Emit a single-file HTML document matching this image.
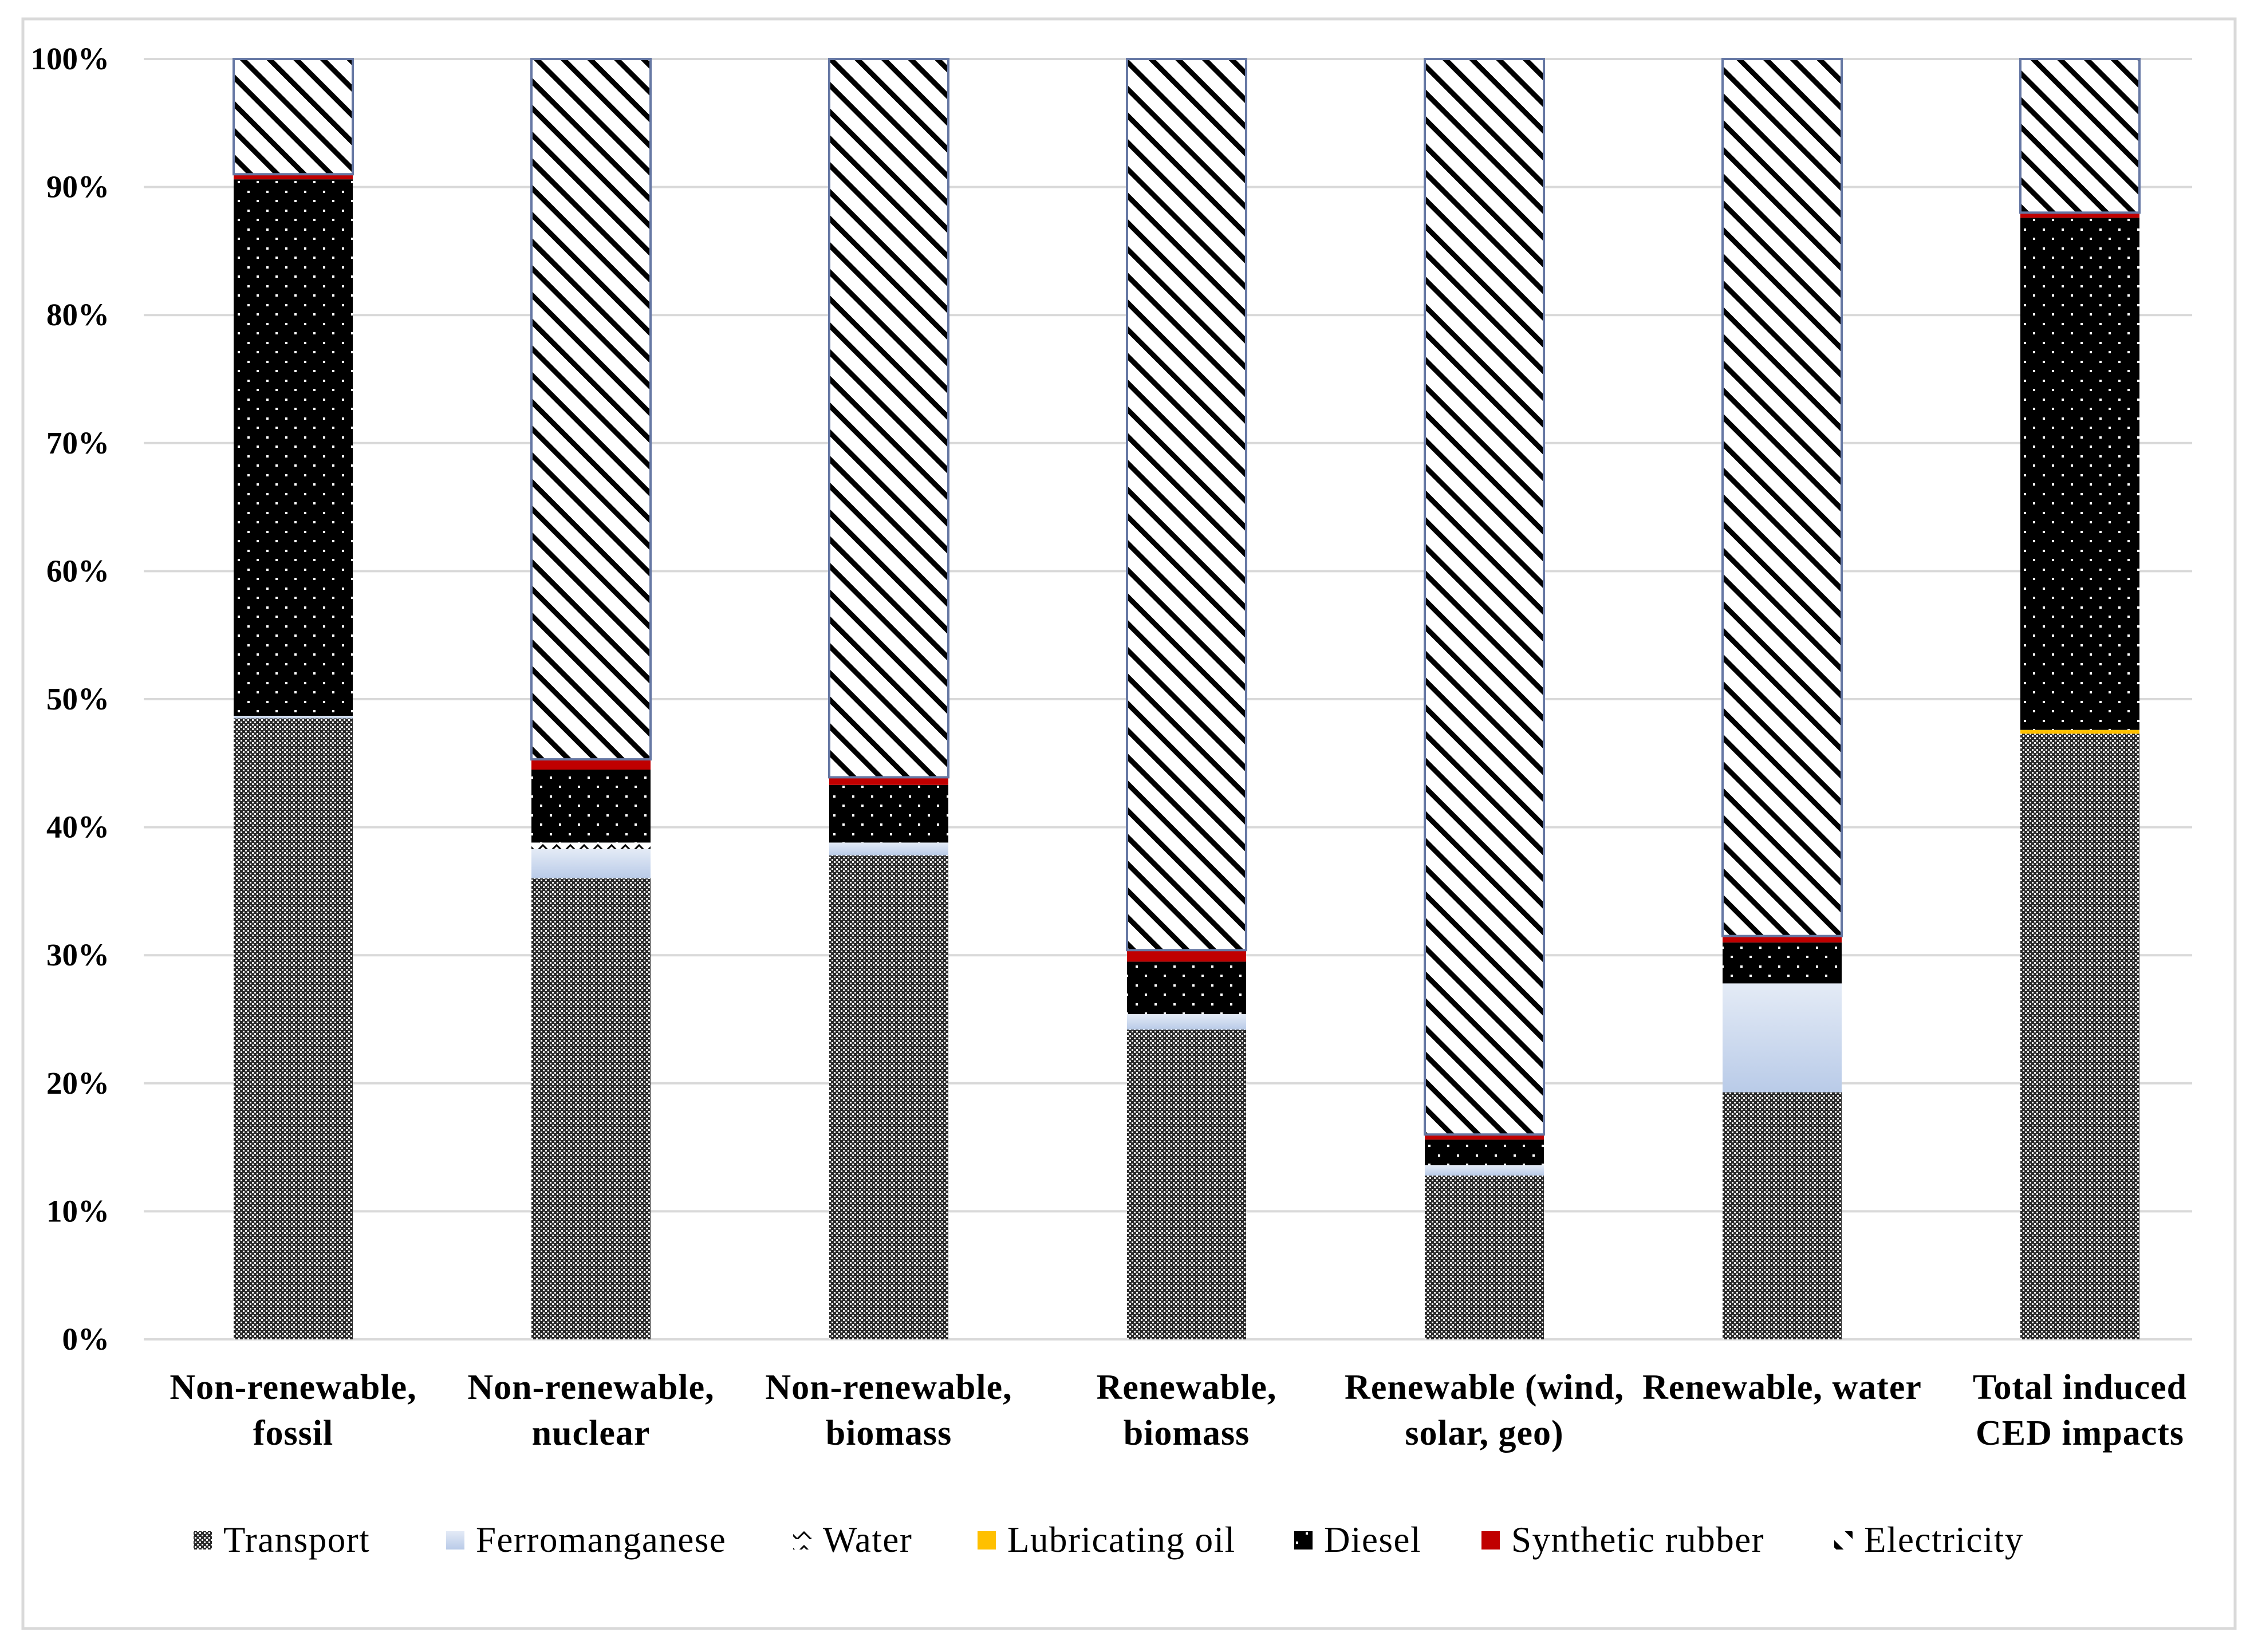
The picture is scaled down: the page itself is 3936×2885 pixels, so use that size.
<!DOCTYPE html>
<html><head><meta charset="utf-8">
<style>
html,body{margin:0;padding:0;background:#fff;}
svg{display:block;font-family:"Liberation Serif",serif;}
</style></head>
<body>
<svg id="chart" width="3936" height="2885" viewBox="0 0 3936 2885" xmlns="http://www.w3.org/2000/svg">
<defs>
  <pattern id="pTransport" patternUnits="userSpaceOnUse" width="8" height="8">
    <rect width="8" height="8" fill="#2a2a2a"/>
    <rect x="0" y="0" width="3" height="3" fill="#fff"/>
    <rect x="4" y="4" width="3" height="3" fill="#fff"/>
  </pattern>
  <pattern id="pDiesel" patternUnits="userSpaceOnUse" width="33" height="33">
    <rect width="33" height="33" fill="#000"/>
    <rect x="3" y="3" width="4" height="4" fill="#fff"/>
    <rect x="19" y="19" width="4" height="4" fill="#fff"/>
  </pattern>
  <pattern id="pElec" patternUnits="userSpaceOnUse" width="33" height="33" patternTransform="rotate(45)">
    <rect width="33" height="33" fill="#fff"/>
    <rect x="0" y="0" width="33" height="9" fill="#000"/>
  </pattern>
  <pattern id="pWater" patternUnits="userSpaceOnUse" width="24" height="24">
    <rect width="24" height="24" fill="#fff"/>
    <path d="M0 24 L12 12 L24 24" stroke="#000" stroke-width="3" fill="none"/>
  </pattern>
  <linearGradient id="gFerro" x1="0" y1="0" x2="0" y2="1">
    <stop offset="0" stop-color="#e4ebf6"/>
    <stop offset="1" stop-color="#b9cbe8"/>
  </linearGradient>
</defs>
<rect x="40" y="33" width="3863" height="2811" fill="#fff" stroke="#d9d9d9" stroke-width="5"/>
<g id="grid"></g>
<g id="bars"></g>
<g id="xlabels"></g>
<g id="legend"></g>
</svg>
<script>
const categories = [["Non-renewable,","fossil"],["Non-renewable,","nuclear"],["Non-renewable,","biomass"],["Renewable,","biomass"],["Renewable (wind,","solar, geo)"],["Renewable, water",""],["Total induced","CED impacts"]];
const seriesNames = ["Transport","Ferromanganese","Water","Lubricating oil","Diesel","Synthetic rubber","Electricity"];
const transport = [48.5, 36.0, 37.8, 24.2, 12.8, 19.3, 47.3];
const ferromanganese = [0.2, 2.3, 1.0, 1.2, 0.8, 8.5, 0.0];
const water = [0.0, 0.5, 0.0, 0.0, 0.0, 0.0, 0.0];
const lubricatingOil = [0.0, 0.0, 0.0, 0.0, 0.0, 0.0, 0.3];
const diesel = [41.9, 5.7, 4.5, 4.1, 2.0, 3.2, 40.0];
const syntheticRubber = [0.4, 0.8, 0.6, 0.9, 0.4, 0.5, 0.4];
const electricity = [9.0, 54.7, 56.1, 69.6, 84.0, 68.5, 12.0];
const yTicks = ["0%","10%","20%","30%","40%","50%","60%","70%","80%","90%","100%"];

const NS = "http://www.w3.org/2000/svg";
const plotL = 251, plotR = 3828, y0 = 2339, y100 = 103;
const firstCenter = 512, step = 520;
const barW = 208;
function yScale(v){ return y0 - (y0 - y100) * v / 100; }
function xCenter(i){ return firstCenter + step * i; }
function mk(tag, attrs, parent){ const e = document.createElementNS(NS, tag); for (const k in attrs) e.setAttribute(k, attrs[k]); parent.appendChild(e); return e; }

const fills = ["url(#pTransport)","url(#gFerro)","url(#pWater)","#ffc000","url(#pDiesel)","#c00000","url(#pElec)"];
const series = [transport, ferromanganese, water, lubricatingOil, diesel, syntheticRubber, electricity];
const keys = ["transport","ferromanganese","water","lubricating-oil","diesel","synthetic-rubber","electricity"];

const grid = document.getElementById("grid");
yTicks.forEach((t, i) => {
  const v = i * 10;
  const y = yScale(v);
  const ln = mk("line", {x1: plotL, x2: plotR, y1: y, y2: y, stroke: "#d9d9d9", "stroke-width": 4}, grid);
  
  
  const tx = mk("text", {x: 191, y: y + 18, "text-anchor": "end", "font-size": 55, "font-weight": "bold", fill: "#000"}, grid);
  tx.textContent = t;
  
  
});

const bars = document.getElementById("bars");
categories.forEach((c, i) => {
  let cum = 0;
  const g = mk("g", {}, bars);
  
  
  const x = xCenter(i) - barW / 2;
  series.forEach((s, j) => {
    const v = s[i];
    if (v <= 0) { return; }
    const yt = yScale(cum + v), yb = yScale(cum);
    const r = mk("rect", {x: x, y: yt, width: barW, height: Math.max(yb - yt, 0.5), fill: fills[j]}, g);
    if (j === 6) { r.setAttribute("stroke", "#6678a4"); r.setAttribute("stroke-width", 4); }
    
    
    cum += v;
  });
});

const xl = document.getElementById("xlabels");
categories.forEach((c, i) => {
  c.forEach((line, k) => {
    if (!line) return;
    const t = mk("text", {x: xCenter(i), y: 2443 + k * 80, "text-anchor": "middle", "font-size": 62, "font-weight": "bold", "letter-spacing": 1, fill: "#000"}, xl);
    t.textContent = line;
    
    
  });
});

const legend = document.getElementById("legend");
const legX = [338, 779, 1385, 1707, 2260, 2587, 3203];
seriesNames.forEach((n, j) => {
  const g = mk("g", {}, legend);
  
  
  const m = mk("rect", {x: legX[j], y: 2674, width: 32, height: 32, fill: fills[j]}, g);
  
  
  const t = mk("text", {x: legX[j] + 52, y: 2710, "font-size": 63, "letter-spacing": 1.5, fill: "#000"}, g);
  t.textContent = n;
  
  
});
</script>
</body></html>
